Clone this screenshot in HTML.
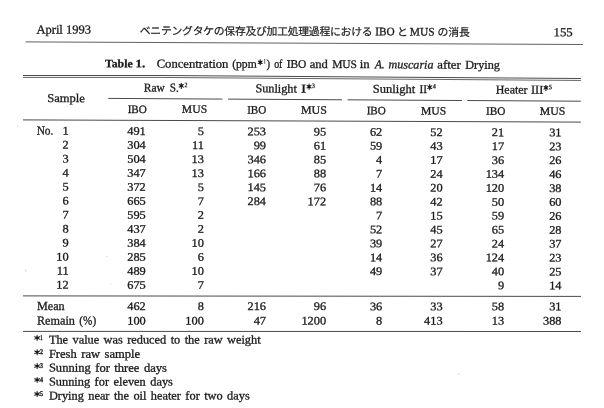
<!DOCTYPE html>
<html><head><meta charset="utf-8"><title>Table 1</title>
<style>
html,body{margin:0;padding:0;background:#fff;}
body{width:604px;height:408px;overflow:hidden;font-family:"Liberation Serif",serif;}
svg{display:block;position:absolute;left:0;top:0;filter:grayscale(1);}
text{font-family:"Liberation Serif",serif;fill:#1a1a1a;stroke:#1a1a1a;stroke-width:0.3px;}
.b{font-weight:bold}.i{font-style:italic}
.jpt{font-family:"Liberation Serif","Noto Sans CJK JP",serif;stroke-width:0.2px;}
.st{stroke:#1a1a1a;stroke-width:1.1;stroke-linecap:round;fill:none;}
</style></head><body>
<svg width="604" height="408" viewBox="0 0 604 408">
<line x1="25.60" y1="41.90" x2="583.00" y2="44.50" stroke-width="0.95" stroke="#585858"/>
<line x1="23.00" y1="119.90" x2="580.90" y2="122.10" stroke-width="1.0" stroke="#4a4a4a"/>
<line x1="23.00" y1="295.90" x2="581.00" y2="296.40" stroke-width="1.0" stroke="#4a4a4a"/>
<line x1="23.00" y1="331.40" x2="581.00" y2="331.50" stroke-width="1.0" stroke="#4a4a4a"/>
<line x1="108.25" y1="98.40" x2="222.40" y2="99.08" stroke-width="1.0" stroke="#4a4a4a"/>
<line x1="228.10" y1="99.11" x2="342.00" y2="99.79" stroke-width="1.0" stroke="#4a4a4a"/>
<line x1="347.60" y1="99.82" x2="462.00" y2="100.50" stroke-width="1.0" stroke="#4a4a4a"/>
<line x1="467.25" y1="100.53" x2="580.80" y2="101.20" stroke-width="1.0" stroke="#4a4a4a"/>
<polyline points="23.0,75.50 160.0,75.50 302.0,76.50 440.0,77.50 580.9,78.50" fill="none" stroke-width="1.0" stroke="#4a4a4a"/>
<polyline points="23.0,77.45 160.0,77.45 302.0,78.50 440.0,79.45 580.9,80.45" fill="none" stroke-width="0.9" stroke="#555"/>
<circle cx="25.8" cy="270.8" r="0.5" fill="#888"/>
<circle cx="106.8" cy="256.2" r="0.45" fill="#999"/>
<circle cx="110.8" cy="283.8" r="0.45" fill="#aaa"/>
<circle cx="458.8" cy="374.0" r="0.5" fill="#999"/>
<circle cx="17.5" cy="126.0" r="0.45" fill="#aaa"/>
<circle cx="476.4" cy="57.9" r="0.4" fill="#aaa"/>
<g>
<text class="jpt" font-size="10.8" letter-spacing="-0.23" transform="translate(139.80,34.52) rotate(0.26)">ベニテングタケの保存及び加工処理過程における</text>
<text class="jpt" font-size="10.8" transform="translate(397.10,35.68) rotate(0.26)">と</text>
<text class="jpt" font-size="10.8" letter-spacing="-0.1" transform="translate(437.60,35.86) rotate(0.26)">の消長</text>
</g>
<text font-size="12.3" transform="translate(36.45,33.40) rotate(0.267) scale(1.0173,1)">April 1993</text>
<text font-size="11.5" transform="translate(375.25,35.20) rotate(0.267) scale(0.9795,1)">IBO</text>
<text font-size="11.5" transform="translate(409.85,35.50) rotate(0.267) scale(0.9947,1)">MUS</text>
<text font-size="12.3" transform="translate(553.61,36.25) rotate(0.268) scale(1.0378,1)">155</text>
<text class="b" font-size="11.3" transform="translate(104.95,67.20) rotate(0.304) scale(1.0426,1)">Table</text>
<text class="b" font-size="11.3" transform="translate(135.45,67.20) rotate(0.304) scale(1.1447,1)">1.</text>
<text font-size="12.0" transform="translate(156.65,67.50) rotate(0.305) scale(1.0547,1)">Concentration</text>
<text font-size="12.0" transform="translate(232.15,67.70) rotate(0.305) scale(0.9694,1)">(ppm</text>
<text font-size="12.0" transform="translate(266.55,67.70) rotate(0.305) scale(0.9000,1)">)</text>
<text font-size="12.0" transform="translate(274.15,67.80) rotate(0.306) scale(0.8200,1)">of</text>
<text font-size="11.5" transform="translate(286.65,67.80) rotate(0.306) scale(0.9974,1)">IBO</text>
<text font-size="12.0" transform="translate(309.65,67.90) rotate(0.306) scale(1.0504,1)">and</text>
<text font-size="11.5" transform="translate(332.15,67.90) rotate(0.306) scale(0.9967,1)">MUS</text>
<text font-size="12.0" transform="translate(359.65,68.00) rotate(0.306) scale(1.0660,1)">in</text>
<text class="i" font-size="12.0" transform="translate(374.99,68.20) rotate(0.306) scale(0.9390,1)">A.</text>
<text class="i" font-size="12.0" transform="translate(388.55,68.30) rotate(0.307) scale(1.0075,1)">muscaria</text>
<text font-size="12.0" transform="translate(437.25,68.55) rotate(0.307) scale(1.0690,1)">after</text>
<text font-size="12.0" transform="translate(465.25,68.70) rotate(0.307) scale(1.0207,1)">Drying</text>
<text font-size="12.0" transform="translate(47.15,102.00) rotate(0.250) scale(1.0486,1)">Sample</text>
<text font-size="12.0" transform="translate(143.75,91.50) rotate(0.280) scale(0.9583,1)">Raw</text>
<text font-size="12.0" transform="translate(169.85,91.60) rotate(0.279) scale(0.9303,1)">S.</text>
<text font-size="12.0" transform="translate(255.45,92.30) rotate(0.277) scale(1.0183,1)">Sunlight</text>
<text font-size="12.0" transform="translate(300.95,92.40) rotate(0.277) scale(1.3000,1)">I</text>
<text font-size="12.0" transform="translate(372.85,92.80) rotate(0.276) scale(1.0401,1)">Sunlight</text>
<text font-size="12.0" transform="translate(419.55,92.90) rotate(0.276) scale(0.9380,1)">II</text>
<text font-size="12.0" transform="translate(495.75,93.50) rotate(0.274) scale(0.9944,1)">Heater</text>
<text font-size="12.0" transform="translate(530.95,93.60) rotate(0.274) scale(1.0257,1)">III</text>
<text font-size="11.3" transform="translate(127.65,113.00) rotate(0.220) scale(0.9820,1)">IBO</text>
<text font-size="11.3" transform="translate(247.15,113.40) rotate(0.219) scale(0.9820,1)">IBO</text>
<text font-size="11.3" transform="translate(366.65,114.20) rotate(0.216) scale(0.9794,1)">IBO</text>
<text font-size="11.3" transform="translate(485.95,114.80) rotate(0.215) scale(0.9950,1)">IBO</text>
<text font-size="11.3" transform="translate(181.85,112.70) rotate(0.221) scale(1.0329,1)">MUS</text>
<text font-size="11.3" transform="translate(300.95,113.60) rotate(0.218) scale(1.0577,1)">MUS</text>
<text font-size="11.3" transform="translate(420.95,114.40) rotate(0.216) scale(1.0329,1)">MUS</text>
<text font-size="11.3" transform="translate(539.85,114.70) rotate(0.215) scale(1.0453,1)">MUS</text>
<path class="st" d="M181.30 83.25V88.45M179.25 84.55L183.35 87.15M179.25 87.15L183.35 84.55"/><circle cx="181.30" cy="85.85" r="1.35" fill="#1a1a1a"/>
<text class="b" font-size="6.9" style="stroke-width:0.15px" transform="translate(184.60,87.30) rotate(0.291) scale(0.8500,1)">2</text>
<path class="st" d="M309.05 84.05V89.25M307.05 85.35L311.05 87.95M307.05 87.95L311.05 85.35"/><circle cx="309.05" cy="86.65" r="1.35" fill="#1a1a1a"/>
<text class="b" font-size="6.9" style="stroke-width:0.15px" transform="translate(312.00,88.10) rotate(0.289) scale(0.8750,1)">3</text>
<path class="st" d="M429.75 84.55V89.75M427.75 85.85L431.75 88.45M427.75 88.45L431.75 85.85"/><circle cx="429.75" cy="87.15" r="1.35" fill="#1a1a1a"/>
<text class="b" font-size="6.9" style="stroke-width:0.15px" transform="translate(432.70,88.60) rotate(0.288) scale(0.9000,1)">4</text>
<path class="st" d="M545.95 85.25V90.45M544.05 86.55L547.85 89.15M544.05 89.15L547.85 86.55"/><circle cx="545.95" cy="87.85" r="1.35" fill="#1a1a1a"/>
<text class="b" font-size="6.9" style="stroke-width:0.15px" transform="translate(548.70,89.30) rotate(0.286) scale(0.9500,1)">5</text>
<path class="st" d="M260.20 59.75V64.65M258.25 60.98L262.15 63.43M258.25 63.43L262.15 60.98"/><circle cx="260.20" cy="62.20" r="1.35" fill="#1a1a1a"/>
<text class="b" font-size="6.9" style="stroke-width:0.15px" transform="translate(263.80,63.40) rotate(0.296) scale(0.5750,1)">1</text>
<text font-size="12.3" transform="translate(36.65,134.50) rotate(0.200) scale(0.9263,1)">No.</text>
<text font-size="11.6" transform="translate(62.51,134.58) rotate(0.200) scale(1.065,1)">1</text>
<text font-size="11.6" transform="translate(127.26,134.85) rotate(0.200) scale(1.065,1)">491</text>
<text font-size="11.6" transform="translate(197.71,135.06) rotate(0.200) scale(1.065,1)">5</text>
<text font-size="11.6" transform="translate(247.46,135.27) rotate(0.200) scale(1.065,1)">253</text>
<text font-size="11.6" transform="translate(313.74,135.48) rotate(0.200) scale(1.065,1)">95</text>
<text font-size="11.6" transform="translate(369.94,135.68) rotate(0.200) scale(1.065,1)">62</text>
<text font-size="11.6" transform="translate(430.24,135.89) rotate(0.200) scale(1.065,1)">52</text>
<text font-size="11.6" transform="translate(491.84,136.11) rotate(0.200) scale(1.065,1)">21</text>
<text font-size="11.6" transform="translate(549.14,136.31) rotate(0.200) scale(1.065,1)">31</text>
<text font-size="11.6" transform="translate(62.51,148.58) rotate(0.189) scale(1.065,1)">2</text>
<text font-size="11.6" transform="translate(127.26,148.83) rotate(0.189) scale(1.065,1)">304</text>
<text font-size="11.6" transform="translate(191.99,149.03) rotate(0.189) scale(1.065,1)">11</text>
<text font-size="11.6" transform="translate(253.64,149.23) rotate(0.189) scale(1.065,1)">99</text>
<text font-size="11.6" transform="translate(313.74,149.43) rotate(0.189) scale(1.065,1)">61</text>
<text font-size="11.6" transform="translate(369.94,149.61) rotate(0.189) scale(1.065,1)">59</text>
<text font-size="11.6" transform="translate(430.24,149.81) rotate(0.189) scale(1.065,1)">43</text>
<text font-size="11.6" transform="translate(491.84,150.02) rotate(0.189) scale(1.065,1)">17</text>
<text font-size="11.6" transform="translate(549.14,150.21) rotate(0.189) scale(1.065,1)">23</text>
<text font-size="11.6" transform="translate(62.51,162.57) rotate(0.178) scale(1.065,1)">3</text>
<text font-size="11.6" transform="translate(127.26,162.81) rotate(0.178) scale(1.065,1)">504</text>
<text font-size="11.6" transform="translate(191.54,162.99) rotate(0.178) scale(1.065,1)">13</text>
<text font-size="11.6" transform="translate(247.46,163.19) rotate(0.178) scale(1.065,1)">346</text>
<text font-size="11.6" transform="translate(313.74,163.37) rotate(0.178) scale(1.065,1)">85</text>
<text font-size="11.6" transform="translate(376.11,163.55) rotate(0.178) scale(1.065,1)">4</text>
<text font-size="11.6" transform="translate(430.24,163.73) rotate(0.178) scale(1.065,1)">17</text>
<text font-size="11.6" transform="translate(491.84,163.93) rotate(0.178) scale(1.065,1)">36</text>
<text font-size="11.6" transform="translate(549.14,164.10) rotate(0.178) scale(1.065,1)">26</text>
<text font-size="11.6" transform="translate(62.51,176.57) rotate(0.166) scale(1.065,1)">4</text>
<text font-size="11.6" transform="translate(127.26,176.79) rotate(0.166) scale(1.065,1)">347</text>
<text font-size="11.6" transform="translate(191.54,176.96) rotate(0.166) scale(1.065,1)">13</text>
<text font-size="11.6" transform="translate(247.46,177.14) rotate(0.166) scale(1.065,1)">166</text>
<text font-size="11.6" transform="translate(313.74,177.32) rotate(0.166) scale(1.065,1)">88</text>
<text font-size="11.6" transform="translate(376.11,177.48) rotate(0.166) scale(1.065,1)">7</text>
<text font-size="11.6" transform="translate(430.24,177.66) rotate(0.166) scale(1.065,1)">24</text>
<text font-size="11.6" transform="translate(485.66,177.83) rotate(0.166) scale(1.065,1)">134</text>
<text font-size="11.6" transform="translate(549.14,178.00) rotate(0.166) scale(1.065,1)">46</text>
<text font-size="11.6" transform="translate(62.51,190.56) rotate(0.155) scale(1.065,1)">5</text>
<text font-size="11.6" transform="translate(127.26,190.77) rotate(0.155) scale(1.065,1)">372</text>
<text font-size="11.6" transform="translate(197.71,190.93) rotate(0.155) scale(1.065,1)">5</text>
<text font-size="11.6" transform="translate(247.46,191.10) rotate(0.155) scale(1.065,1)">145</text>
<text font-size="11.6" transform="translate(313.74,191.26) rotate(0.155) scale(1.065,1)">76</text>
<text font-size="11.6" transform="translate(369.94,191.41) rotate(0.155) scale(1.065,1)">14</text>
<text font-size="11.6" transform="translate(430.24,191.58) rotate(0.155) scale(1.065,1)">20</text>
<text font-size="11.6" transform="translate(485.66,191.74) rotate(0.155) scale(1.065,1)">120</text>
<text font-size="11.6" transform="translate(549.14,191.90) rotate(0.155) scale(1.065,1)">38</text>
<text font-size="11.6" transform="translate(62.51,204.56) rotate(0.144) scale(1.065,1)">6</text>
<text font-size="11.6" transform="translate(127.26,204.75) rotate(0.144) scale(1.065,1)">665</text>
<text font-size="11.6" transform="translate(197.71,204.90) rotate(0.144) scale(1.065,1)">7</text>
<text font-size="11.6" transform="translate(247.46,205.05) rotate(0.144) scale(1.065,1)">284</text>
<text font-size="11.6" transform="translate(307.56,205.20) rotate(0.144) scale(1.065,1)">172</text>
<text font-size="11.6" transform="translate(369.94,205.35) rotate(0.144) scale(1.065,1)">88</text>
<text font-size="11.6" transform="translate(430.24,205.50) rotate(0.144) scale(1.065,1)">42</text>
<text font-size="11.6" transform="translate(491.84,205.65) rotate(0.144) scale(1.065,1)">50</text>
<text font-size="11.6" transform="translate(549.14,205.79) rotate(0.144) scale(1.065,1)">60</text>
<text font-size="11.6" transform="translate(62.51,218.56) rotate(0.134) scale(1.065,1)">7</text>
<text font-size="11.6" transform="translate(127.26,218.74) rotate(0.134) scale(1.065,1)">595</text>
<text font-size="11.6" transform="translate(197.71,218.87) rotate(0.134) scale(1.065,1)">2</text>
<text font-size="11.6" transform="translate(376.11,219.29) rotate(0.134) scale(1.065,1)">7</text>
<text font-size="11.6" transform="translate(430.24,219.43) rotate(0.134) scale(1.065,1)">15</text>
<text font-size="11.6" transform="translate(491.84,219.57) rotate(0.134) scale(1.065,1)">59</text>
<text font-size="11.6" transform="translate(549.14,219.71) rotate(0.134) scale(1.065,1)">26</text>
<text font-size="11.6" transform="translate(62.51,232.55) rotate(0.125) scale(1.065,1)">8</text>
<text font-size="11.6" transform="translate(127.26,232.72) rotate(0.125) scale(1.065,1)">437</text>
<text font-size="11.6" transform="translate(197.71,232.85) rotate(0.125) scale(1.065,1)">2</text>
<text font-size="11.6" transform="translate(369.94,233.24) rotate(0.125) scale(1.065,1)">52</text>
<text font-size="11.6" transform="translate(430.24,233.37) rotate(0.125) scale(1.065,1)">45</text>
<text font-size="11.6" transform="translate(491.84,233.50) rotate(0.125) scale(1.065,1)">65</text>
<text font-size="11.6" transform="translate(549.14,233.63) rotate(0.125) scale(1.065,1)">28</text>
<text font-size="11.6" transform="translate(62.51,246.55) rotate(0.116) scale(1.065,1)">9</text>
<text font-size="11.6" transform="translate(127.26,246.70) rotate(0.116) scale(1.065,1)">384</text>
<text font-size="11.6" transform="translate(191.54,246.82) rotate(0.116) scale(1.065,1)">10</text>
<text font-size="11.6" transform="translate(369.94,247.18) rotate(0.116) scale(1.065,1)">39</text>
<text font-size="11.6" transform="translate(430.24,247.30) rotate(0.116) scale(1.065,1)">27</text>
<text font-size="11.6" transform="translate(491.84,247.43) rotate(0.116) scale(1.065,1)">24</text>
<text font-size="11.6" transform="translate(549.14,247.55) rotate(0.116) scale(1.065,1)">37</text>
<text font-size="11.6" transform="translate(56.34,260.54) rotate(0.107) scale(1.065,1)">10</text>
<text font-size="11.6" transform="translate(127.26,260.69) rotate(0.107) scale(1.065,1)">285</text>
<text font-size="11.6" transform="translate(197.71,260.80) rotate(0.107) scale(1.065,1)">6</text>
<text font-size="11.6" transform="translate(369.94,261.13) rotate(0.107) scale(1.065,1)">14</text>
<text font-size="11.6" transform="translate(430.24,261.24) rotate(0.107) scale(1.065,1)">36</text>
<text font-size="11.6" transform="translate(485.66,261.36) rotate(0.107) scale(1.065,1)">124</text>
<text font-size="11.6" transform="translate(549.14,261.47) rotate(0.107) scale(1.065,1)">23</text>
<text font-size="11.6" transform="translate(56.79,274.54) rotate(0.098) scale(1.065,1)">11</text>
<text font-size="11.6" transform="translate(127.26,274.67) rotate(0.098) scale(1.065,1)">489</text>
<text font-size="11.6" transform="translate(191.54,274.77) rotate(0.098) scale(1.065,1)">10</text>
<text font-size="11.6" transform="translate(369.94,275.08) rotate(0.098) scale(1.065,1)">49</text>
<text font-size="11.6" transform="translate(430.24,275.18) rotate(0.098) scale(1.065,1)">37</text>
<text font-size="11.6" transform="translate(491.84,275.29) rotate(0.098) scale(1.065,1)">40</text>
<text font-size="11.6" transform="translate(549.14,275.39) rotate(0.098) scale(1.065,1)">25</text>
<text font-size="11.6" transform="translate(56.34,288.54) rotate(0.089) scale(1.065,1)">12</text>
<text font-size="11.6" transform="translate(127.26,288.66) rotate(0.089) scale(1.065,1)">675</text>
<text font-size="11.6" transform="translate(197.71,288.75) rotate(0.089) scale(1.065,1)">7</text>
<text font-size="11.6" transform="translate(498.01,289.22) rotate(0.089) scale(1.065,1)">9</text>
<text font-size="11.6" transform="translate(549.14,289.31) rotate(0.089) scale(1.065,1)">14</text>
<text font-size="12.3" transform="translate(36.95,309.90) rotate(0.045) scale(0.9910,1)">Mean</text>
<text font-size="11.6" transform="translate(127.26,309.98) rotate(0.045) scale(1.065,1)">462</text>
<text font-size="11.6" transform="translate(197.71,310.02) rotate(0.045) scale(1.065,1)">8</text>
<text font-size="11.6" transform="translate(247.46,310.07) rotate(0.045) scale(1.065,1)">216</text>
<text font-size="11.6" transform="translate(313.74,310.12) rotate(0.045) scale(1.065,1)">96</text>
<text font-size="11.6" transform="translate(369.94,310.16) rotate(0.045) scale(1.065,1)">36</text>
<text font-size="11.6" transform="translate(430.24,310.21) rotate(0.045) scale(1.065,1)">33</text>
<text font-size="11.6" transform="translate(491.84,310.26) rotate(0.045) scale(1.065,1)">58</text>
<text font-size="11.6" transform="translate(549.14,310.30) rotate(0.045) scale(1.065,1)">31</text>
<text font-size="12.3" transform="translate(36.95,324.50) rotate(0.030) scale(0.9921,1)">Remain</text>
<text font-size="12.3" transform="translate(79.35,324.50) rotate(0.030) scale(0.9161,1)">(%)</text>
<text font-size="11.6" transform="translate(127.26,324.50) rotate(0.030) scale(1.065,1)">100</text>
<text font-size="11.6" transform="translate(185.36,324.50) rotate(0.030) scale(1.065,1)">100</text>
<text font-size="11.6" transform="translate(253.64,324.50) rotate(0.030) scale(1.065,1)">47</text>
<text font-size="11.6" transform="translate(301.39,324.50) rotate(0.030) scale(1.065,1)">1200</text>
<text font-size="11.6" transform="translate(376.11,324.50) rotate(0.030) scale(1.065,1)">8</text>
<text font-size="11.6" transform="translate(424.06,324.50) rotate(0.030) scale(1.065,1)">413</text>
<text font-size="11.6" transform="translate(491.84,324.50) rotate(0.030) scale(1.065,1)">13</text>
<text font-size="11.6" transform="translate(542.96,324.50) rotate(0.030) scale(1.065,1)">388</text>
<text font-size="12.0" word-spacing="1.3" transform="translate(48.90,343.40) rotate(0.030) scale(1.0291,1)">The value was reduced to the raw weight</text>
<path class="st" d="M37.15 335.45V340.35M34.75 336.67L39.55 339.12M34.75 339.12L39.55 336.67"/><circle cx="37.15" cy="337.90" r="1.35" fill="#1a1a1a"/>
<text class="b" font-size="7.4" transform="translate(40.30,339.50) rotate(0.030) scale(0.6000,1)">1</text>
<text font-size="12.0" word-spacing="1.3" transform="translate(48.90,357.70) rotate(0.030) scale(1.0464,1)">Fresh raw sample</text>
<path class="st" d="M37.15 349.75V354.65M34.75 350.97L39.55 353.43M34.75 353.43L39.55 350.97"/><circle cx="37.15" cy="352.20" r="1.35" fill="#1a1a1a"/>
<text class="b" font-size="7.4" transform="translate(40.10,353.80) rotate(0.030) scale(0.8250,1)">2</text>
<text font-size="12.0" word-spacing="1.3" transform="translate(48.90,371.60) rotate(0.030) scale(1.0463,1)">Sunning for three days</text>
<path class="st" d="M37.15 363.65V368.55M34.75 364.88L39.55 367.33M34.75 367.33L39.55 364.88"/><circle cx="37.15" cy="366.10" r="1.35" fill="#1a1a1a"/>
<text class="b" font-size="7.4" transform="translate(40.10,367.70) rotate(0.030) scale(0.8250,1)">3</text>
<text font-size="12.0" word-spacing="1.3" transform="translate(48.90,385.40) rotate(0.030) scale(1.0324,1)">Sunning for eleven days</text>
<path class="st" d="M37.15 377.45V382.35M34.75 378.67L39.55 381.12M34.75 381.12L39.55 378.67"/><circle cx="37.15" cy="379.90" r="1.35" fill="#1a1a1a"/>
<text class="b" font-size="7.4" transform="translate(40.10,381.50) rotate(0.030) scale(0.8250,1)">4</text>
<text font-size="12.0" word-spacing="1.3" transform="translate(48.90,399.50) rotate(0.030) scale(1.0294,1)">Drying near the oil heater for two days</text>
<path class="st" d="M37.15 391.55V396.45M34.75 392.77L39.55 395.23M34.75 395.23L39.55 392.77"/><circle cx="37.15" cy="394.00" r="1.35" fill="#1a1a1a"/>
<text class="b" font-size="7.4" transform="translate(40.10,395.60) rotate(0.030) scale(0.8250,1)">5</text>
</svg>
</body></html>
